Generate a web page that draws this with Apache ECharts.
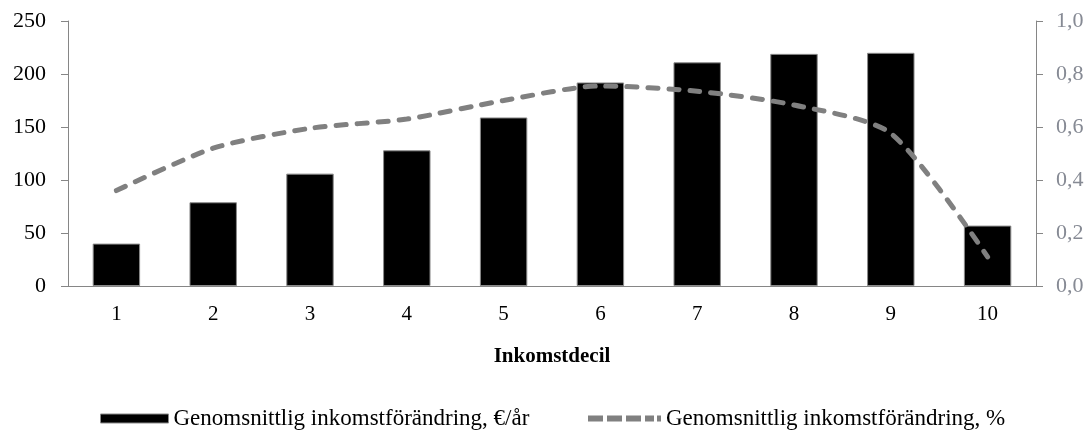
<!DOCTYPE html>
<html>
<head>
<meta charset="utf-8">
<script src="https://cdn.jsdelivr.net/npm/echarts@6/dist/echarts.min.js"></script>
<style>
html,body{margin:0;padding:0;background:#fff;}
#chart{width:1091px;height:430px;}
</style>
</head>
<body>
<div id="chart"></div>
<script>
var categories = ['1','2','3','4','5','6','7','8','9','10'];
var barValues = [40, 79, 106, 128, 159, 192, 211, 219, 220, 57];
var lineValues = [0.36, 0.52, 0.595, 0.63, 0.70, 0.755, 0.735, 0.683, 0.576, 0.11];
var barName = 'Genomsnittlig inkomstförändring, €/år';
var lineName = 'Genomsnittlig inkomstförändring, %';
var xAxisName = 'Inkomstdecil';

var FONT = 'Liberation Serif';
var dashIcon = 'path://M0,0h15v6h-15z M19,0h15v6h-15z M38,0h15v6h-15z M57,0h9v6h-9z M69,0h4v6h-4z';
var chart = echarts.init(document.getElementById('chart'));
chart.setOption({
  animation: false,
  backgroundColor: '#ffffff',
  textStyle: { fontFamily: FONT },
  grid: { left: 68, right: 55, top: 21, bottom: 144 },
  legend: [
    {
      data: [{ name: barName, icon: 'rect', itemStyle: { color: '#000', borderColor: '#8a8a8a', borderWidth: 1 } }],
      left: 95, top: 402,
      itemWidth: 68, itemHeight: 9, itemGap: 4,
      textStyle: { fontFamily: FONT, fontSize: 23, color: '#000', padding: [0, 0, 0, 0] }
    },
    {
      data: [{ name: lineName, icon: dashIcon, itemStyle: { color: '#808080', borderWidth: 0 } }],
      left: 583, top: 402,
      itemWidth: 73, itemHeight: 6, itemGap: 4,
      textStyle: { fontFamily: FONT, fontSize: 23, color: '#000' }
    }
  ],
  xAxis: {
    type: 'category',
    data: categories,
    name: xAxisName,
    nameLocation: 'middle',
    nameGap: 60,
    nameTextStyle: { fontFamily: FONT, fontSize: 21, fontWeight: 'bold', color: '#000' },
    axisLine: { lineStyle: { color: '#868686', width: 1 } },
    axisTick: { show: false },
    axisLabel: { fontFamily: FONT, fontSize: 21, color: '#000', margin: 18 }
  },
  yAxis: [
    {
      type: 'value', min: 0, max: 250, interval: 50,
      axisLine: { show: true, lineStyle: { color: '#868686' } },
      axisTick: { show: true, length: 7, lineStyle: { color: '#868686' } },
      splitLine: { show: false },
      axisLabel: { fontFamily: FONT, fontSize: 22, color: '#000', margin: 22 }
    },
    {
      type: 'value', min: 0, max: 1, interval: 0.2,
      position: 'right',
      axisLine: { show: true, lineStyle: { color: '#868686' } },
      axisTick: { show: true, length: 7, lineStyle: { color: '#868686' } },
      splitLine: { show: false },
      axisLabel: {
        fontFamily: FONT, fontSize: 22, color: '#868a94', margin: 20,
        formatter: function (v) { return v.toFixed(1).replace('.', ','); }
      }
    }
  ],
  series: [
    {
      name: barName,
      type: 'bar',
      data: barValues,
      barWidth: '49%',
      itemStyle: { color: '#000000', borderColor: '#8a8a8a', borderWidth: 1 }
    },
    {
      name: lineName,
      type: 'line',
      yAxisIndex: 1,
      data: lineValues,
      smooth: 0.25,
      symbol: 'none',
      lineStyle: { color: '#808080', width: 5, type: [10, 11], cap: 'round' },
      itemStyle: { color: '#808080' }
    }
  ]
});
</script>
</body>
</html>
